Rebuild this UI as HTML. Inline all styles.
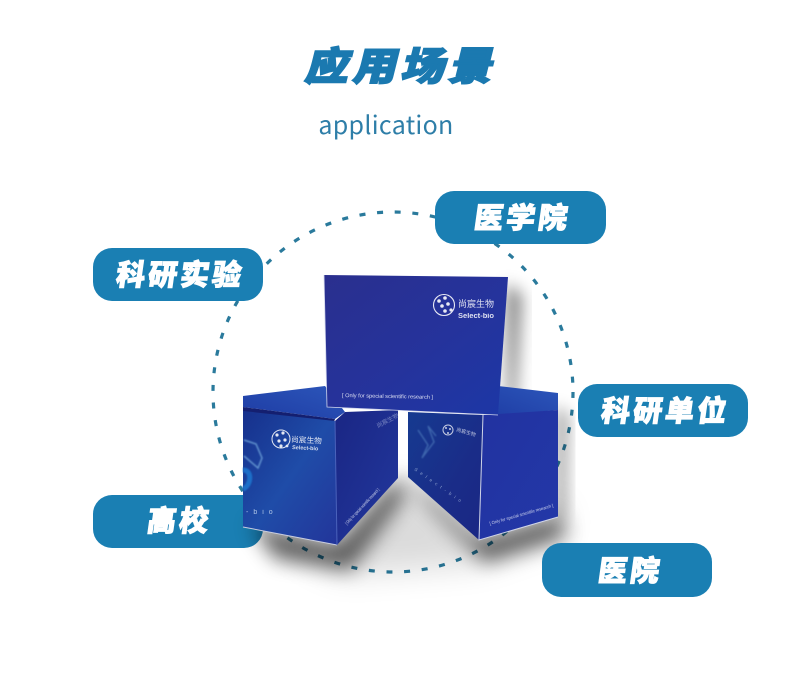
<!DOCTYPE html>
<html>
<head>
<meta charset="utf-8">
<style>
html,body{margin:0;padding:0;background:#fff;}
svg{display:block;}
text{font-family:"Liberation Sans","Noto Sans CJK SC",sans-serif;}
.t{font-family:"Noto Sans CJK SC",sans-serif;font-weight:900;text-anchor:middle;}
.p{fill:#fff;stroke:#fff;stroke-width:1px;font-size:29px;letter-spacing:3px;}
</style>
</head>
<body>
<svg width="790" height="679" viewBox="0 0 790 679" xmlns="http://www.w3.org/2000/svg">
<defs>
<filter id="b0" x="-50%" y="-50%" width="200%" height="200%"><feGaussianBlur stdDeviation="16"/></filter>
<filter id="b1" x="-40%" y="-40%" width="180%" height="180%"><feGaussianBlur stdDeviation="10"/></filter>
<filter id="b2" x="-60%" y="-40%" width="220%" height="180%"><feGaussianBlur stdDeviation="8"/></filter>
<filter id="b3" x="-20%" y="-20%" width="140%" height="140%"><feGaussianBlur stdDeviation=".7"/></filter>
<linearGradient id="top" x1="0" y1="0" x2="1" y2="1"><stop offset="0" stop-color="#2a2f8e"/><stop offset=".55" stop-color="#25339c"/><stop offset="1" stop-color="#1c37a6"/></linearGradient>
<linearGradient id="lf" x1="0" y1="0" x2="1" y2="1"><stop offset="0" stop-color="#16308c"/><stop offset=".5" stop-color="#1f4ca8"/><stop offset="1" stop-color="#23359a"/></linearGradient>
<linearGradient id="lr" x1="0" y1="0" x2="1" y2="1"><stop offset="0" stop-color="#1a2684"/><stop offset="1" stop-color="#22389e"/></linearGradient>
<linearGradient id="rl" x1="0" y1="0" x2="1" y2="1"><stop offset="0" stop-color="#163a90"/><stop offset=".6" stop-color="#1a2c88"/><stop offset="1" stop-color="#1a2784"/></linearGradient>
<linearGradient id="rr" x1="0" y1="0" x2="1" y2="1"><stop offset="0" stop-color="#2232a0"/><stop offset="1" stop-color="#2338a8"/></linearGradient>
<linearGradient id="flap" x1="0" y1="1" x2="1" y2="0"><stop offset="0" stop-color="#1e3ca4"/><stop offset="1" stop-color="#2c56ba"/></linearGradient>
</defs>

<!-- Title -->
<text class="t" x="0" y="0" font-size="43" letter-spacing="4.5" fill="#1b79b0" stroke="#1b79b0" stroke-width="2" transform="translate(400 80) skewX(-14) scale(1.01,.9)">应用场景</text>
<text x="386" y="134" text-anchor="middle" font-size="25" letter-spacing=".3" fill="#2e7ea8" style="font-family:'Noto Sans CJK SC',sans-serif;font-weight:400">application</text>

<!-- Dashed ring -->
<circle cx="393" cy="392" r="180" fill="none" stroke="#2a7a9c" stroke-width="3.2" stroke-dasharray="6 11.7"/>

<!-- Pills behind -->
<rect x="93" y="248" width="170" height="53" rx="19" fill="#1a7fb3"/>
<rect x="435" y="191" width="171" height="53" rx="19" fill="#1a7fb3"/>
<rect x="93" y="495" width="170" height="53" rx="19" fill="#1a7fb3"/>

<!-- Shadows -->
<polygon points="265,535 340,575 480,565 565,535 560,500 480,540 403,475 337,545" fill="#000" opacity=".14" filter="url(#b0)"/>
<polygon points="250,522 337,545 398,478 405,495 350,570 275,558" fill="#000" opacity=".62" filter="url(#b1)"/>
<polygon points="408,477 479,540 558,517 568,535 485,562 428,505" fill="#000" opacity=".62" filter="url(#b1)"/>
<polygon points="506,283 522,295 515,410 508,412" fill="#000" opacity=".5" filter="url(#b2)"/>
<polygon points="556,405 568,415 566,515 556,520" fill="#000" opacity=".4" filter="url(#b2)"/>

<!-- Pills in front of shadow -->
<rect x="578" y="384" width="170" height="53" rx="19" fill="#1a7fb3"/>
<rect x="542" y="543" width="170" height="54" rx="19" fill="#1a7fb3"/>

<!-- Left box -->
<polygon points="243,396 325,386 345,412 335,419 243,407" fill="url(#flap)"/>
<polygon points="243,407 335,419 334,422 243,412" fill="#141f70"/>
<polygon points="243,411 335,421 337,545 243,527" fill="url(#lf)"/>
<polygon points="335,421 345,412 398,410 398,478 337,545" fill="url(#lr)"/>
<polyline points="243,527 337,545" fill="none" stroke="#c8cde0" stroke-width="1"/>
<line x1="335" y1="421" x2="337" y2="545" stroke="#4a62bb" stroke-width="1"/>
<g filter="url(#b3)" fill="none">
<path d="M244 440 L256 444 L262 458 L258 468 L244 456" stroke="#7fb6e6" stroke-width="1.5" opacity=".7"/>
<path d="M243 470 C253 470 251 486 243 489" stroke="#1a6ec8" stroke-width="5"/>
</g>
<g fill="#fff" opacity=".88"><circle cx="281" cy="439" r="9" fill="none" stroke="#fff" stroke-width="1"/><circle cx="277" cy="435" r="1.6"/><circle cx="283" cy="433" r="1.6"/><circle cx="279" cy="441" r="1.6"/><circle cx="285" cy="440" r="1.6"/><circle cx="281" cy="446" r="1.6"/><circle cx="287" cy="446" r="1.4"/></g>
<text x="291" y="442" font-size="7.7" fill="#fff" opacity=".85" transform="rotate(3 291 442)">尚宸生物</text>
<text x="292" y="449" font-size="5.5" fill="#fff" opacity=".8" font-weight="bold" transform="rotate(3 292 449)">Select-bio</text>
<text x="246" y="514" font-size="7" letter-spacing="5" fill="#cfe0f5" opacity=".8">-bio</text>
<text x="347" y="525" font-size="4.5" textLength="48" lengthAdjust="spacingAndGlyphs" fill="#e5e9f7" opacity=".85" transform="rotate(-47 347 525)">[ Only for special scientific research ]</text>
<text x="378" y="428" font-size="6" fill="#cdd6f0" opacity=".5" transform="rotate(-28 378 428)">尚宸生物</text>

<!-- Right box -->
<polygon points="498,386 558,393 558,410 483,417 498,415" fill="url(#flap)"/>
<polygon points="408,412 483,415 479,540 408,477" fill="url(#rl)"/>
<polygon points="483,415 558,410 558,517 479,540" fill="url(#rr)"/>
<polyline points="483,415 479,540 558,517" fill="none" stroke="#d0d5e8" stroke-width="1"/>
<g fill="none" stroke="#6fa6d8" stroke-width="1.4" opacity=".45" filter="url(#b3)"><path d="M418 430 L428 445 L422 458 L434 442 L428 426 L436 436"/></g>
<g fill="#fff" opacity=".75"><circle cx="448" cy="430" r="5" fill="none" stroke="#fff" stroke-width="1"/><circle cx="446" cy="428" r="1"/><circle cx="450" cy="429" r="1"/><circle cx="448" cy="433" r="1"/></g>
<text x="456" y="431" font-size="5" fill="#fff" opacity=".7" transform="rotate(16 456 431)">尚宸生物</text>
<text x="414" y="470" font-size="4.5" letter-spacing="4" fill="#cfe0f5" opacity=".6" transform="rotate(35 414 470)">Select-bio</text>
<text x="490" y="525" font-size="4.5" textLength="66" lengthAdjust="spacingAndGlyphs" fill="#e5e9f7" opacity=".85" transform="rotate(-16 490 525)">[ Only for special scientific research ]</text>

<!-- Top box -->
<polygon points="324,275 508,277 498,415 327,407" fill="url(#top)"/>
<polyline points="324,275 327,407 498,415" fill="none" stroke="#cfd3ea" stroke-width=".8"/>
<g fill="#fff" opacity=".9"><circle cx="444" cy="305" r="10.5" fill="none" stroke="#fff" stroke-width="1.1"/><circle cx="439" cy="301" r="1.8"/><circle cx="445" cy="298" r="1.8"/><circle cx="442" cy="306" r="1.8"/><circle cx="448" cy="304" r="1.8"/><circle cx="445" cy="311" r="1.8"/><circle cx="451" cy="310" r="1.6"/></g>
<text x="458" y="307" font-size="9" fill="#fff" opacity=".85">尚宸生物</text>
<text x="458" y="318" font-size="7" textLength="36" lengthAdjust="spacingAndGlyphs" fill="#fff" opacity=".85" font-weight="bold">Select-bio</text>
<text x="342" y="397" font-size="5.5" textLength="91" lengthAdjust="spacingAndGlyphs" fill="#eef0fa" opacity=".9" transform="rotate(1.2 342 397)">[ Only for special scientific research ]</text>

<!-- Pill labels -->
<text class="t p" x="0" y="0" transform="translate(179 285) skewX(-8)">科研实验</text>
<text class="t p" x="0" y="0" transform="translate(521 228) skewX(-8)">医学院</text>
<text class="t p" x="0" y="0" transform="translate(664 421) skewX(-8)">科研单位</text>
<text class="t p" x="0" y="0" transform="translate(178 531) skewX(-8)">高校</text>
<text class="t p" x="0" y="0" transform="translate(629 581) skewX(-8)">医院</text>
</svg>
</body>
</html>
